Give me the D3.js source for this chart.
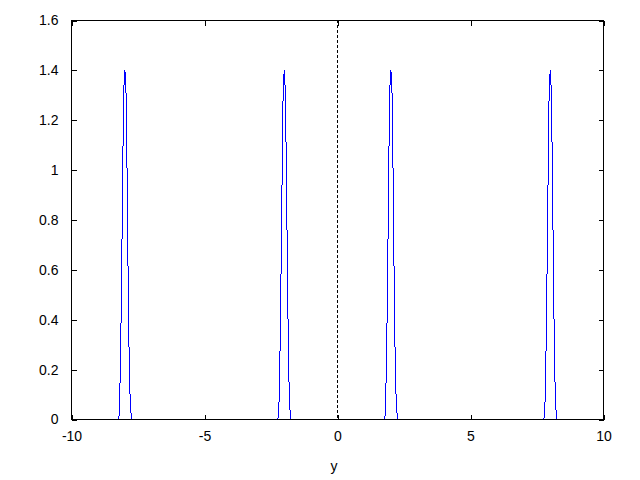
<!DOCTYPE html>
<html>
<head>
<meta charset="utf-8">
<script src="https://cdn.jsdelivr.net/npm/d3@7"></script>
<style>
  html, body { margin: 0; padding: 0; background: #fff; }
  svg { display: block; }
  text { font-family: "Liberation Sans", Arial, sans-serif; font-size: 14px; fill: #000; }
</style>
</head>
<body>
<svg id="chart" width="640" height="480"></svg>
<script>
// ---- data ----
const xTicks = [-10, -5, 0, 5, 10];
const yTicks = [0, 0.2, 0.4, 0.6, 0.8, 1, 1.2, 1.4, 1.6];
const xLabel = "y";

// sampled curve around each peak [x, value]
const peakM8 = [[-8.24,0],[-8.20,0.02],[-8.16,0.23],[-8.12,0.52],[-8.08,0.945],[-8.04,1.31],[-8.00,1.40],[-7.96,1.38],[-7.92,1.09],[-7.88,0.65],[-7.84,0.30],[-7.80,0.10],[-7.76,0.02],[-7.72,0]];
const peakM2 = [[-2.24,0],[-2.20,0.06],[-2.16,0.28],[-2.12,0.61],[-2.08,1.00],[-2.04,1.35],[-2.00,1.40],[-1.96,1.31],[-1.92,0.985],[-1.88,0.58],[-1.84,0.22],[-1.80,0.06],[-1.76,0]];
const peakP2 = [[1.76,0],[1.80,0.02],[1.84,0.23],[1.88,0.52],[1.92,0.945],[1.96,1.31],[2.00,1.40],[2.04,1.38],[2.08,1.09],[2.12,0.65],[2.16,0.30],[2.20,0.10],[2.24,0.02],[2.28,0]];
const peakP8 = [[7.76,0],[7.80,0.06],[7.84,0.28],[7.88,0.61],[7.92,1.00],[7.96,1.35],[8.00,1.40],[8.04,1.31],[8.08,0.985],[8.12,0.58],[8.16,0.22],[8.20,0.06],[8.24,0]];
const curveEnds = [[-10,0],[10,0]];

// ---- layout ----
const L = 71, R = 603, T = 20, B = 419;
const svg = d3.select("#chart");
const x = d3.scaleLinear().domain([-10, 10]).range([L, R]);
const y = d3.scaleLinear().domain([0, 1.6]).range([B, T]);

const pts = [curveEnds[0], ...peakM8, ...peakM2, ...peakP2, ...peakP8, curveEnds[1]];

// zero axis (dashed)
svg.append("line")
  .attr("x1", x(0) + 0.5).attr("x2", x(0) + 0.5)
  .attr("y1", T).attr("y2", B)
  .attr("stroke", "#000").attr("stroke-width", 1)
  .attr("shape-rendering", "crispEdges")
  .attr("stroke-dasharray", "3,2");

// curve
svg.append("clipPath").attr("id", "clip")
  .append("rect").attr("x", L).attr("y", T).attr("width", R - L).attr("height", B - T);
svg.append("path")
  .datum(pts)
  .attr("clip-path", "url(#clip)")
  .attr("fill", "none")
  .attr("stroke", "#0000ff")
  .attr("stroke-width", 1)
  .attr("shape-rendering", "crispEdges")
  .attr("d", d3.line().x(d => x(d[0]) + 0.5).y(d => y(d[1]) + 0.5));

// axes with inward ticks (mirrored)
const tk = 5;
const fmt = d => String(+d.toFixed(1));
const gx = svg.append("g").attr("transform", `translate(0.5,${B + 0.5})`)
  .call(d3.axisBottom(x).tickValues(xTicks).tickSize(-tk).tickPadding(12).tickFormat(fmt));
const gx2 = svg.append("g").attr("transform", `translate(0.5,${T + 0.5})`)
  .call(d3.axisTop(x).tickValues(xTicks).tickSize(-tk).tickFormat(""));
const gy = svg.append("g").attr("transform", `translate(${L + 0.5},0.5)`)
  .call(d3.axisLeft(y).tickValues(yTicks).tickSize(-tk).tickPadding(13).tickFormat(fmt));
const gy2 = svg.append("g").attr("transform", `translate(${R + 0.5},0.5)`)
  .call(d3.axisRight(y).tickValues(yTicks).tickSize(-tk).tickFormat(""));

[gx, gx2, gy, gy2].forEach(g => {
  g.select(".domain").remove();
  g.selectAll("line").attr("stroke", "#000").attr("shape-rendering", "crispEdges");
  g.selectAll("text").attr("font-family", "Liberation Sans, Arial, sans-serif").attr("font-size", 14).attr("fill", "#000");
});

// border
svg.append("rect")
  .attr("x", L + 0.5).attr("y", T + 0.5)
  .attr("width", R - L).attr("height", B - T)
  .attr("fill", "none").attr("stroke", "#000").attr("stroke-width", 1)
  .attr("shape-rendering", "crispEdges");

// axis label
svg.append("text")
  .attr("x", (L + R) / 2 - 3).attr("y", 471)
  .attr("text-anchor", "middle")
  .text(xLabel);
</script>
</body>
</html>
